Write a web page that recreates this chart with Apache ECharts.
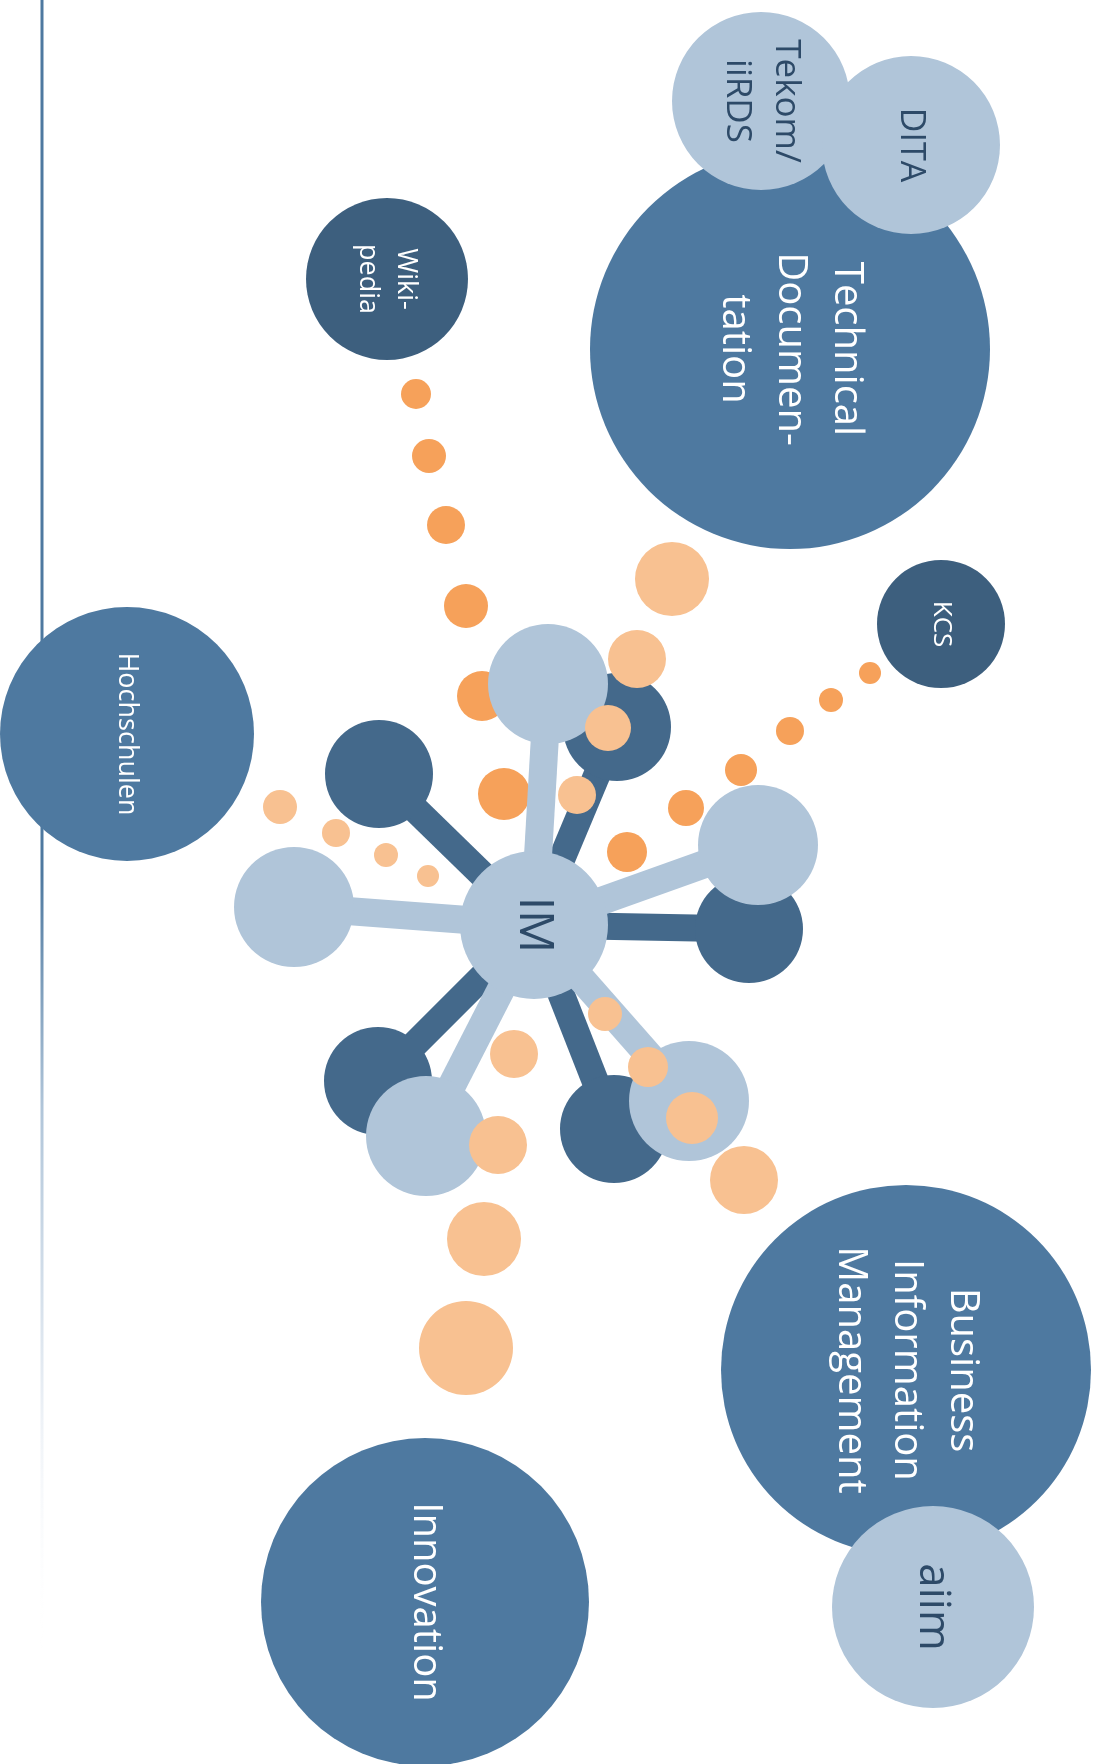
<!DOCTYPE html>
<html>
<head>
<meta charset="utf-8">
<title>IM</title>
<script src="https://cdn.jsdelivr.net/npm/echarts/dist/echarts.min.js"></script>
<style>
    html, body { margin: 0; padding: 0; background: #fff; }
    #main { width: 1097px; height: 1764px; }
</style>
</head>
<body>
<div id="main"></div>
<script>
// 数据: [x, y, r, name]
var topics = [
    [790, 349, 200, 'Technical\nDocumen-\ntation'],
    [127, 734, 127, 'Hochschulen'],
    [906, 1370, 185, 'Business\nInformation\nManagement'],
    [425, 1602, 164, 'Innovation']
];
var topicFont = [40, 27, 40, 40];

var darkTopics = [
    [387, 279, 81, 'Wiki-\npedia'],
    [941, 624, 64, 'KCS']
];
var darkFont = [27, 26];

var satellites = [
    [761, 101, 89, 'Tekom/\niiRDS'],
    [911, 145, 89, 'DITA'],
    [933, 1607, 101, 'aiim']
];
var satFont = [35, 34, 44];

var hub = [534, 925, 74, 'IM'];

var darkNodes = [
    [379, 774, 54],
    [617, 727, 54],
    [749, 929, 54],
    [378, 1081, 54],
    [614, 1129, 54]
];

var lightNodes = [
    [548, 684, 60],
    [758, 845, 60],
    [294, 907, 60],
    [426, 1136, 60],
    [689, 1101, 60]
];

var orangeDots = [
    [416, 394, 15], [429, 456, 17], [446, 525, 19], [466, 606, 22], [482, 696, 25], [504, 794, 26],
    [870, 673, 11], [831, 700, 12], [790, 731, 14], [741, 770, 16], [686, 808, 18], [627, 852, 20]
];

var paleDots = [
    [672, 579, 37], [637, 659, 29], [608, 728, 23], [577, 795, 19],
    [280, 807, 17], [336, 833, 14], [386, 855, 12], [428, 876, 11],
    [605, 1014, 17], [648, 1067, 20], [692, 1118, 26], [744, 1180, 34],
    [514, 1054, 24], [498, 1145, 29], [484, 1239, 37], [466, 1348, 47]
];

var sideLine = [[42, 0], [42, 1650]];

var chart = echarts.init(document.getElementById('main'));

function bonds(nodes) {
    return nodes.map(function (n) {
        return { coords: [[hub[0], hub[1]], [n[0], n[1]]] };
    });
}

function circles(name, data, color, z, fonts, textColor) {
    return {
        name: name,
        type: 'scatter',
        z: z,
        silent: true,
        data: data.map(function (d, i) {
            var item = { value: [d[0], d[1], d[2]], name: d[3] || '' };
            if (fonts) {
                item.label = {
                    show: true,
                    fontSize: fonts[i],
                    lineHeight: Math.round(fonts[i] * 1.4)
                };
            }
            return item;
        }),
        symbolSize: function (v) { return v[2] * 2; },
        itemStyle: { color: color, opacity: 1 },
        label: {
            show: false,
            position: 'inside',
            rotate: -90,
            formatter: '{b}',
            color: textColor || '#fff',
            fontFamily: 'Open Sans'
        },
        emphasis: { disabled: true }
    };
}

var option = {
    animation: false,
    grid: { left: 0, right: 0, top: 0, bottom: 0 },
    xAxis: { type: 'value', min: 0, max: 1097, show: false },
    yAxis: { type: 'value', min: 0, max: 1764, inverse: true, show: false },
    series: [
        {
            type: 'line',
            z: 1,
            silent: true,
            symbol: 'none',
            data: sideLine,
            lineStyle: {
                width: 3,
                color: new echarts.graphic.LinearGradient(0, 0, 0, 1, [
                    { offset: 0, color: '#4e79a0' },
                    { offset: 0.53, color: '#4e79a0' },
                    { offset: 0.67, color: '#b0c5d9' },
                    { offset: 0.86, color: '#eef2f7' },
                    { offset: 1, color: 'rgba(255,255,255,0)' }
                ])
            }
        },
        circles('topics', topics, '#4e79a0', 2, topicFont),
        circles('darkTopics', darkTopics, '#3d5f7e', 2, darkFont),
        circles('satellites', satellites, '#b0c5d9', 3, satFont, '#2d4a68'),
        {
            type: 'lines',
            coordinateSystem: 'cartesian2d',
            z: 4,
            silent: true,
            data: bonds(darkNodes),
            lineStyle: { color: '#44698b', width: 27, opacity: 1 }
        },
        circles('darkNodes', darkNodes, '#44698b', 5),
        circles('orangeDots', orangeDots, '#f6a15a', 6),
        {
            type: 'lines',
            coordinateSystem: 'cartesian2d',
            z: 7,
            silent: true,
            data: bonds(lightNodes),
            lineStyle: { color: '#b0c5d9', width: 28, opacity: 1 }
        },
        circles('lightNodes', lightNodes, '#b0c5d9', 8),
        circles('hub', [hub], '#b0c5d9', 9, [48], '#2d4a68'),
        circles('paleDots', paleDots, '#f8c191', 10)
    ]
};

chart.setOption(option);
</script>
</body>
</html>
